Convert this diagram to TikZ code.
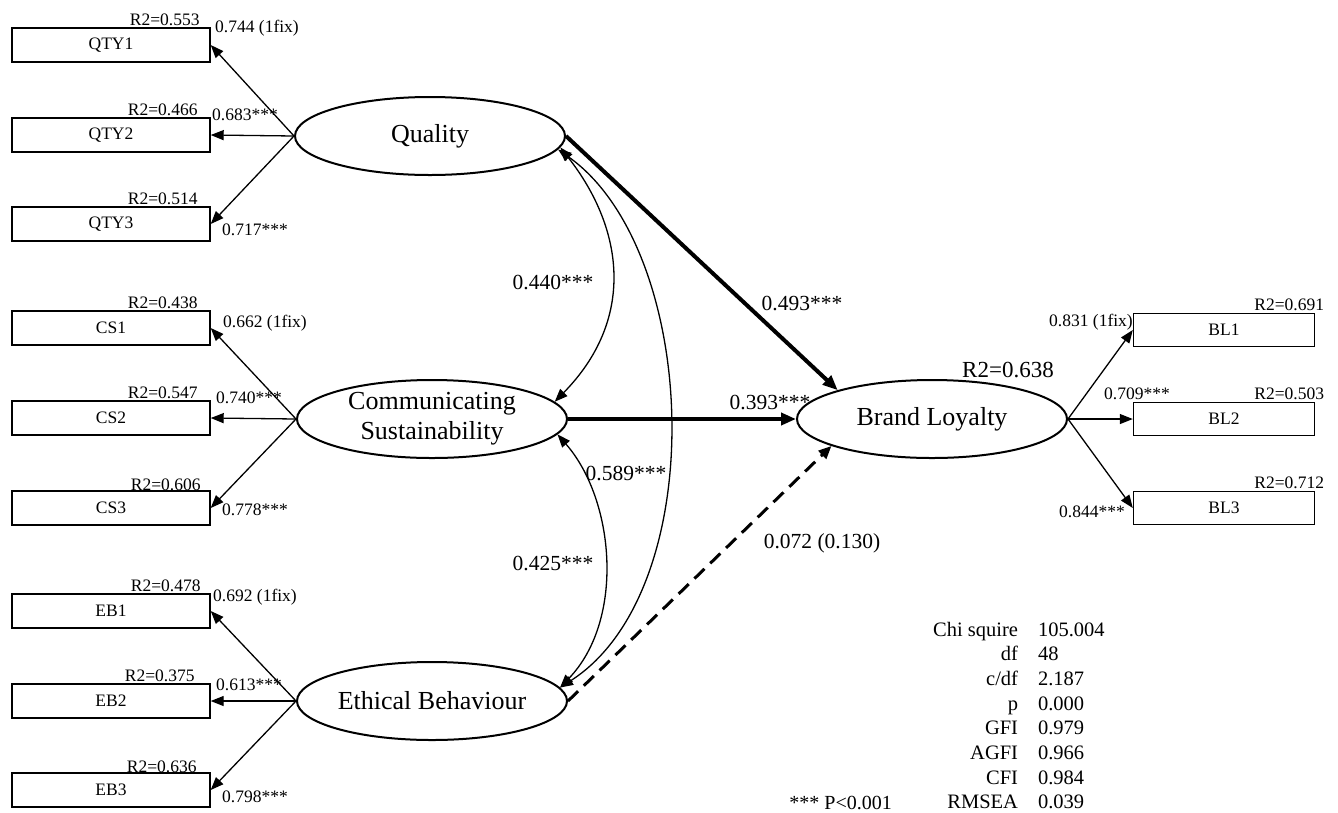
\documentclass[tikz,border=0pt]{standalone}
\usepackage{fontspec}
\setmainfont{Liberation Serif}
\usetikzlibrary{positioning, arrows.meta, shapes.geometric}

\begin{document}
\begin{tikzpicture}[
  x=1pt, y=-1pt,
  ind/.style={draw=black, line width=1.4pt, fill=white,
              minimum width=198pt, minimum height=34pt, inner sep=0pt,
              font=\fontsize{17.5}{20}\selectfont},
  indR/.style={ind, minimum width=181pt, minimum height=33pt},
  lat/.style={ellipse, draw=black, line width=2pt, fill=white,
              minimum width=270pt, minimum height=78pt, inner sep=0pt,
              align=center, font=\fontsize{26}{30}\selectfont},
  r2/.style={inner sep=0pt, font=\fontsize{17.5}{20}\selectfont},
  ld/.style={inner sep=0pt, font=\fontsize{17.5}{20}\selectfont},
  coef/.style={inner sep=0pt, font=\fontsize{21.5}{25}\selectfont},
  arr/.style={-{Triangle[length=13pt, width=10pt]}, line width=1.3pt},
  arrCor/.style={{Triangle[length=13pt, width=10pt]}-{Triangle[length=13pt, width=10pt]}, line width=1.3pt},
  arrS/.style={-{Triangle[length=15pt, width=12pt]}, line width=4pt},
  arrNS/.style={-{Triangle[length=13pt, width=11pt]}, line width=3pt,
                dash pattern=on 14pt off 8pt}
]
\useasboundingbox (0,0) rectangle (1338,812);
% Latent constructs
\node[lat] (qual)  at (430,136) {Quality};
\node[lat] (comm)  at (432,419) {Communicating\\Sustainability};
\node[lat] (ethic) at (432,701) {Ethical Behaviour};
\node[lat] (loyal) at (932,419) {Brand Loyalty};
% Indicators, left
\node[ind] (qty1) at (111,45)  {QTY1};
\node[ind] (qty2) at (111,135) {QTY2};
\node[ind] (qty3) at (111,224) {QTY3};
\node[ind] (cs1)  at (111,328) {CS1};
\node[ind] (cs2)  at (111,418) {CS2};
\node[ind] (cs3)  at (111,508) {CS3};
\node[ind] (eb1)  at (111,611) {EB1};
\node[ind] (eb2)  at (111,701) {EB2};
\node[ind] (eb3)  at (111,790) {EB3};
% Indicators, right
\node[indR] (bl1) at (1224,330) {BL1};
\node[indR] (bl2) at (1224,419) {BL2};
\node[indR] (bl3) at (1224,508) {BL3};
% R2 of indicators
\node[r2, anchor=base east] (rq1) at ([xshift=-11pt, yshift=2pt]qty1.north east) {R2=0.553};
\node[r2, anchor=base east] (rq2) at ([xshift=-13pt, yshift=2pt]qty2.north east) {R2=0.466};
\node[r2, anchor=base east] (rq3) at ([xshift=-13pt, yshift=2pt]qty3.north east) {R2=0.514};
\node[r2, anchor=base east] (rc1) at ([xshift=-13pt, yshift=2pt]cs1.north east) {R2=0.438};
\node[r2, anchor=base east] (rc2) at ([xshift=-13pt, yshift=2pt]cs2.north east) {R2=0.547};
\node[r2, anchor=base east] (rc3) at ([xshift=-10pt, yshift=0pt]cs3.north east) {R2=0.606};
\node[r2, anchor=base east] (re1) at ([xshift=-10pt, yshift=2pt]eb1.north east) {R2=0.478};
\node[r2, anchor=base east] (re2) at ([xshift=-16pt, yshift=2pt]eb2.north east) {R2=0.375};
\node[r2, anchor=base east] (re3) at ([xshift=-14pt, yshift=0pt]eb3.north east) {R2=0.636};
\node[r2, anchor=base east] (rb1) at ([xshift=9pt, yshift=2pt]bl1.north east) {R2=0.691};
\node[r2, anchor=base east] (rb2) at ([xshift=9pt, yshift=2pt]bl2.north east) {R2=0.503};
\node[r2, anchor=base east] (rb3) at ([xshift=9pt, yshift=2pt]bl3.north east) {R2=0.712};
% Loadings
\draw[arr] (qual.west) -- (qty1.east);
\draw[arr] (qual.west) -- (qty2.east);
\draw[arr] (qual.west) -- (qty3.east);
\draw[arr] (comm.west) -- (cs1.east);
\draw[arr] (comm.west) -- (cs2.east);
\draw[arr] (comm.west) -- (cs3.east);
\draw[arr] (ethic.west) -- (eb1.east);
\draw[arr] (ethic.west) -- (eb2.east);
\draw[arr] (ethic.west) -- (eb3.east);
\draw[arr] (loyal.east) -- (bl1.west);
\draw[arr] (loyal.east) -- (bl2.west);
\draw[arr] (loyal.east) -- (bl3.west);
\node[ld, anchor=west] (lq1) at (215,28)  {0.744 (1fix)};
\node[ld, anchor=west] (lq2) at (212,115) {0.683***};
\node[ld, anchor=west] (lq3) at (222,230) {0.717***};
\node[ld, anchor=west] (lc1) at (223,323) {0.662 (1fix)};
\node[ld, anchor=west] (lc2) at (216,398) {0.740***};
\node[ld, anchor=west] (lc3) at (222,510) {0.778***};
\node[ld, anchor=west] (le1) at (213,597) {0.692 (1fix)};
\node[ld, anchor=west] (le2) at (216,685) {0.613***};
\node[ld, anchor=west] (le3) at (222,797) {0.798***};
\node[ld, anchor=east] (lb1) at (1133,322) {0.831 (1fix)};
\node[ld, anchor=west] (lb2) at (1104,394) {0.709***};
\node[ld, anchor=east] (lb3) at (1125,512) {0.844***};
% Correlations
\draw[arrCor] (qual.-5) .. controls (625,230) and (635,320) .. (comm.8);
\draw[arrCor] (qual.-6) .. controls (700,250) and (712,590) .. (ethic.6);
\draw[arrCor] (comm.-7) .. controls (615,500) and (625,620) .. (ethic.6);
\node[coef] (c1) at (553,282) {0.440***};
\node[coef] (c2) at (626,473) {0.589***};
\node[coef] (c3) at (553,563) {0.425***};
% Structural paths
\draw[arrS] (qual.east) -- (loyal.163);
\draw[arrS] (comm.east) -- (loyal.west);
\draw[arrNS] (ethic.east) -- (loyal.-165);
\node[coef] (p1) at (802,303) {0.493***};
\node[coef] (p2) at (770,402) {0.393***};
\node[coef] (p3) at (822,543) {0.072 (0.130)};
\node[coef, font=\fontsize{23}{26}\selectfont] (rbl) at (1008,370) {R2=0.638};
% Fit indices
\node[inner sep=0pt, anchor=base west, font=\fontsize{20.5}{24.7}\selectfont] (fit) at (933,636)
  {\begin{tabular}[t]{@{}r@{\hspace{20pt}}l@{}}
   Chi squire & 105.004\\
   df & 48\\
   c/df & 2.187\\
   p & 0.000\\
   GFI & 0.979\\
   AGFI & 0.966\\
   CFI & 0.984\\
   RMSEA & 0.039
   \end{tabular}};
\node[inner sep=0pt, anchor=base east, font=\fontsize{20}{24.7}\selectfont] (sig) at (892,809) {*** P<0.001};
\end{tikzpicture}
\end{document}
